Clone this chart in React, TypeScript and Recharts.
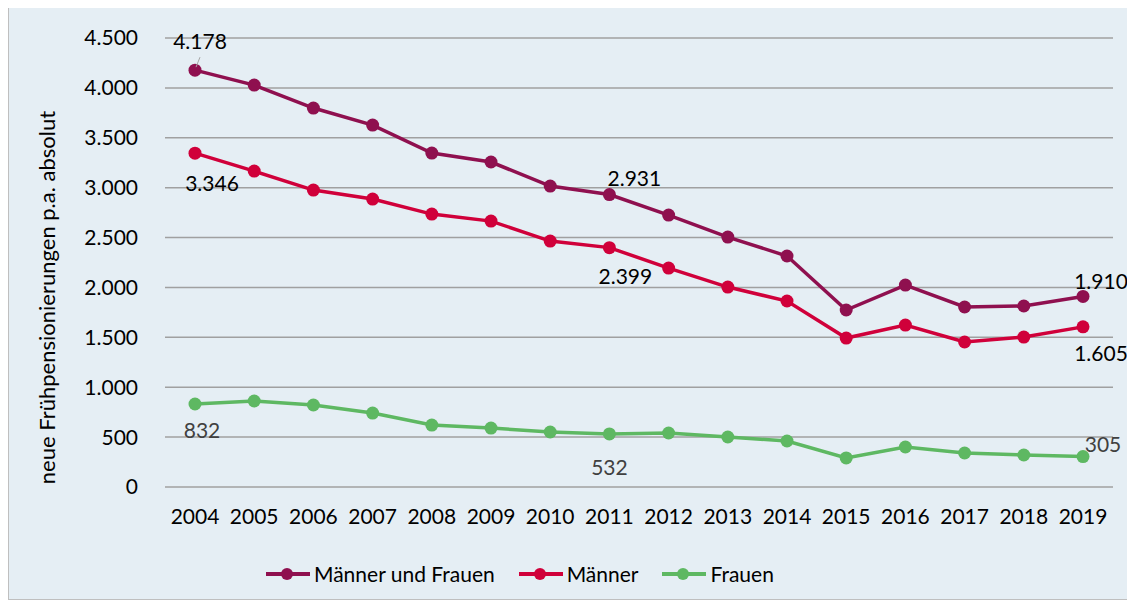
import React from "react";
import {
  LineChart,
  Line,
  XAxis,
  YAxis,
  CartesianGrid,
  Legend,
  LabelList,
  Label,
} from "recharts";

const years = [
  "2004", "2005", "2006", "2007", "2008", "2009", "2010", "2011",
  "2012", "2013", "2014", "2015", "2016", "2017", "2018", "2019",
];

const gesamt = [
  4178, 4028, 3798, 3627, 3347, 3257, 3016, 2931,
  2725, 2505, 2315, 1774, 2024, 1804, 1814, 1910,
];

const maenner = [
  3346, 3166, 2976, 2886, 2735, 2665, 2465, 2399,
  2194, 2004, 1864, 1493, 1623, 1453, 1503, 1605,
];

const frauen = [
  832, 862, 822, 741, 621, 591, 551, 532,
  541, 501, 461, 291, 401, 341, 321, 305,
];

const yTicks = [0, 500, 1000, 1500, 2000, 2500, 3000, 3500, 4000, 4500];

const data = years.map((year, i) => ({
  year,
  gesamt: gesamt[i],
  maenner: maenner[i],
  frauen: frauen[i],
}));

const FONT = "Lato, 'Open Sans', sans-serif";
const C_GESAMT = "#8f104f";
const C_MAENNER = "#d0003a";
const C_FRAUEN = "#5eb862";

function fmt(v: number): string {
  return String(v).replace(/\B(?=(\d{3})+(?!\d))/g, ".");
}

// label offsets per series, keyed by index (only these get a label)
const labelOffsets: Record<string, Record<number, [number, number]>> = {
  gesamt: { 0: [5, -30], 7: [25, -17], 15: [18, -16] },
  maenner: { 0: [17, 29], 7: [16, 28], 15: [18, 26] },
  frauen: { 0: [7, 26], 7: [0, 33], 15: [20, -13] },
};

const makeLabel = (key: string, color: string) => (props: any) => {
  const { x, y, value, index } = props;
  const off = labelOffsets[key][index];
  if (!off) return null;
  const tx = x + off[0];
  const ty = y + off[1];
  return (
    <g>
      {key === "gesamt" && index === 0 && (
        <line x1={x + 1} y1={y - 3} x2={x + 5} y2={y - 13} stroke="#a6a6a6" strokeWidth={1} />
      )}
      <text
        x={tx}
        y={ty}
        textAnchor="middle"
        dominantBaseline="central"
        fontFamily={FONT}
        fontSize={21}
        fill={color}
      >
        {fmt(value)}
      </text>
    </g>
  );
};

const legendItems = [
  { name: "Männer und Frauen", color: C_GESAMT },
  { name: "Männer", color: C_MAENNER },
  { name: "Frauen", color: C_FRAUEN },
];

const renderLegend = () => (
  <div
    style={{
      display: "flex",
      alignItems: "center",
      paddingLeft: 257,
      fontFamily: FONT,
      fontSize: 21,
      color: "#000",
    }}
  >
    {legendItems.map((it) => (
      <div key={it.name} style={{ display: "flex", alignItems: "center", marginRight: 24 }}>
        <svg width={44} height={16} style={{ marginRight: 4 }}>
          <line x1={0} y1={8} x2={44} y2={8} stroke={it.color} strokeWidth={4} />
          <circle cx={21} cy={8} r={6} fill={it.color} />
        </svg>
        <span>{it.name}</span>
      </div>
    ))}
  </div>
);

const YLabel = (props: any) => {
  const { viewBox } = props;
  const cx = viewBox.x + 37;
  const cy = viewBox.y + viewBox.height / 2 + 35;
  return (
    <text
      x={cx}
      y={cy}
      transform={`rotate(-90, ${cx}, ${cy})`}
      textAnchor="middle"
      dominantBaseline="central"
      fontFamily={FONT}
      fontSize={22}
      fill="#000"
    >
      neue Frühpensionierungen p.a. absolut
    </text>
  );
};

export default function App() {
  return (
    <div
      style={{
        width: 1123,
        height: 591,
        border: "1px solid #bfbfbf",
        background: "#e5eef4",
        marginTop: -1,
      }}
    >
      <style>{".recharts-surface{overflow:visible}"}</style>
      <LineChart
        width={1123}
        height={591}
        data={data}
        margin={{ top: 30, right: 19, left: 0, bottom: 57 }}
      >
        <CartesianGrid vertical={false} stroke="#a0a0a0" strokeWidth={1.5} />
        <XAxis
          dataKey="year"
          axisLine={false}
          tickLine={false}
          tickSize={0}
          tickMargin={22}
          padding={{ left: 30, right: 30 }}
          tick={{ fill: "#000", fontFamily: FONT, fontSize: 21 }}
          interval={0}
        />
        <YAxis
          width={156}
          domain={[0, 4500]}
          ticks={yTicks}
          axisLine={false}
          tickLine={false}
          tickSize={0}
          tickMargin={27}
          tickFormatter={fmt}
          tick={{ fill: "#000", fontFamily: FONT, fontSize: 21 }}
        >
          <Label content={<YLabel />} />
        </YAxis>
        <Legend
          content={renderLegend}
          verticalAlign="bottom"
          wrapperStyle={{ bottom: 13, left: 0, width: 1123 }}
        />
        <Line
          dataKey="gesamt"
          name="Männer und Frauen"
          stroke={C_GESAMT}
          strokeWidth={3.5}
          dot={{ r: 6.5, fill: C_GESAMT, stroke: C_GESAMT, strokeWidth: 0 }}
          activeDot={false}
          isAnimationActive={false}
        >
          <LabelList dataKey="gesamt" content={makeLabel("gesamt", "#000")} />
        </Line>
        <Line
          dataKey="maenner"
          name="Männer"
          stroke={C_MAENNER}
          strokeWidth={3.5}
          dot={{ r: 6.5, fill: C_MAENNER, stroke: C_MAENNER, strokeWidth: 0 }}
          activeDot={false}
          isAnimationActive={false}
        >
          <LabelList dataKey="maenner" content={makeLabel("maenner", "#000")} />
        </Line>
        <Line
          dataKey="frauen"
          name="Frauen"
          stroke={C_FRAUEN}
          strokeWidth={3.5}
          dot={{ r: 6.5, fill: C_FRAUEN, stroke: C_FRAUEN, strokeWidth: 0 }}
          activeDot={false}
          isAnimationActive={false}
        >
          <LabelList dataKey="frauen" content={makeLabel("frauen", "#404040")} />
        </Line>
      </LineChart>
    </div>
  );
}
